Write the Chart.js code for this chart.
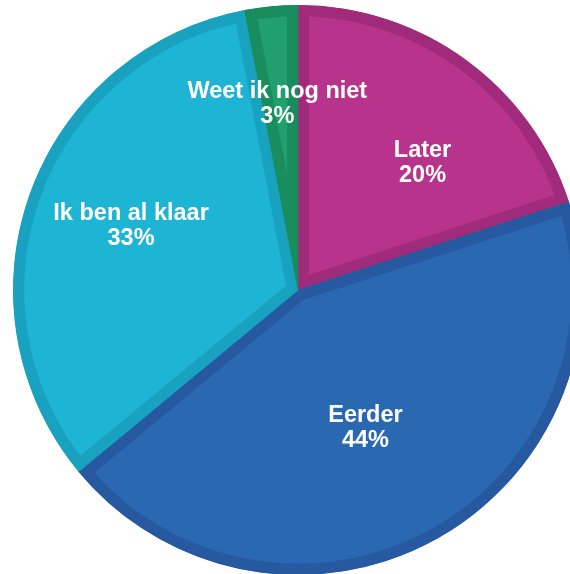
<!DOCTYPE html>
<html>
<head>
<meta charset="utf-8">
<script src="https://cdn.jsdelivr.net/npm/chart.js@4.4.1/dist/chart.umd.min.js"></script>
<style>
    html, body { margin: 0; padding: 0; background: #fff; overflow: hidden; }
    body { width: 570px; height: 574px; position: relative; }
    #pie { position: absolute; left: 13px; top: 5px; }
</style>
</head>
<body>
<canvas id="pie" width="570" height="570"></canvas>
<script>
// antwoorden (met de klok mee vanaf boven)
const categories = ['Later', 'Eerder', 'Ik ben al klaar', 'Weet ik nog niet'];
const percentages = [20, 44, 33, 3];

const fillColors = ['#B8348C', '#2A68B2', '#1EB4D4', '#1FA06E'];
const edgeColors = ['#A02B7B', '#2659A0', '#19A2C0', '#1A8D5F'];

// labels in de taartpunten
const sliceLabels = {
    id: 'sliceLabels',
    afterDatasetsDraw(chart, args, opts) {
        const ctx = chart.ctx;
        const meta = chart.getDatasetMeta(0);
        ctx.save();
        ctx.fillStyle = '#fff';
        ctx.font = 'bold 23.5px "Liberation Sans", Arial, sans-serif';
        ctx.textAlign = 'center';
        ctx.textBaseline = 'middle';
        meta.data.forEach((arc, i) => {
            const p = arc.getProps(['x', 'y', 'startAngle', 'endAngle', 'outerRadius'], true);
            const mid = (p.startAngle + p.endAngle) / 2;
            const r = p.outerRadius * opts.radius[i];
            const x = p.x + Math.cos(mid) * r + opts.nudge[i][0];
            const y = p.y + Math.sin(mid) * r + opts.nudge[i][1];
            ctx.fillText(categories[i], x, y - 12.5);
            ctx.fillText(percentages[i] + '%', x, y + 12.5);
        });
        ctx.restore();
    }
};

new Chart(document.getElementById('pie'), {
    type: 'pie',
    data: {
        labels: categories,
        datasets: [{
            data: percentages,
            backgroundColor: fillColors,
            borderColor: edgeColors,
            borderWidth: 11,
            borderAlign: 'inner'
        }]
    },
    options: {
        responsive: false,
        animation: false,
        layout: { padding: 0 },
        plugins: {
            legend: { display: false },
            tooltip: { enabled: false },
            sliceLabels: {
                radius: [0.63, 0.535, 0.63, 0.66],
                nudge: [[19, 18], [-6, 4], [2, -3], [-3, 1]]
            }
        }
    },
    plugins: [sliceLabels]
});
</script>
</body>
</html>
